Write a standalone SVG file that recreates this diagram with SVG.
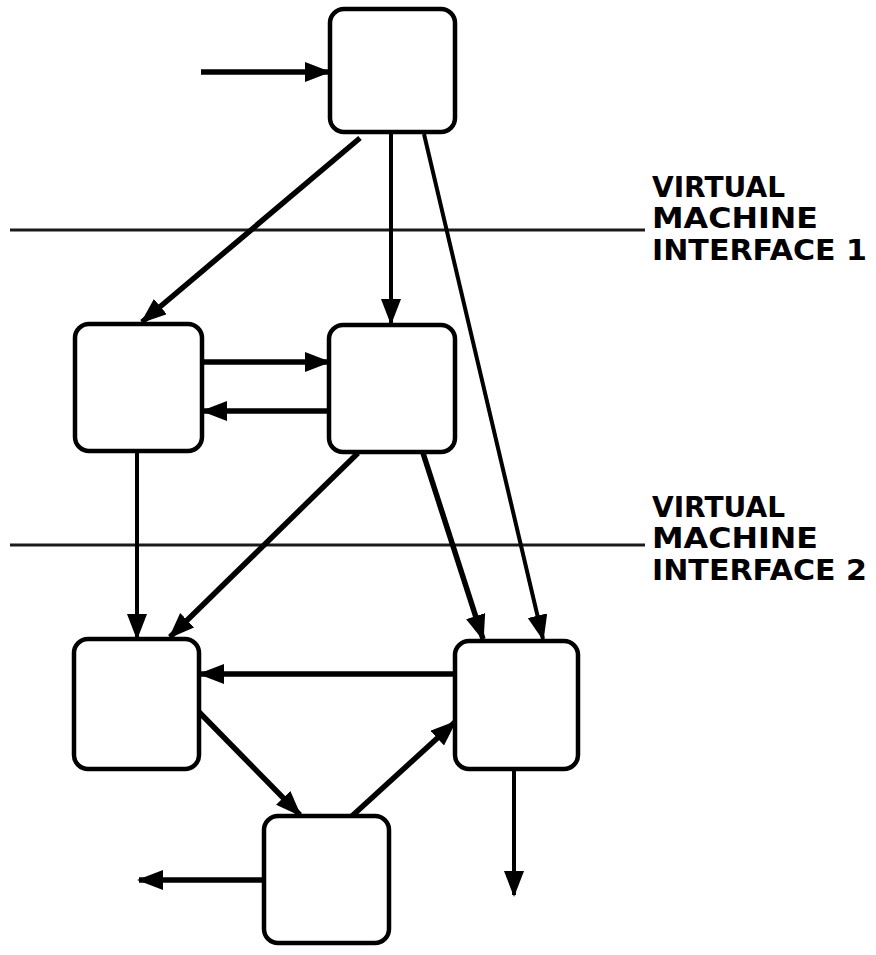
<svg xmlns="http://www.w3.org/2000/svg" width="876" height="955" viewBox="0 0 876 955">
<style>
.node{fill:#fff;stroke:#000;stroke-width:4.5}
.c{fill:none;stroke:#000;stroke-width:4}
.t{stroke-width:5.5}
.iface{stroke:#1a1a1a;stroke-width:3;fill:none}
.lbl{font-family:"DejaVu Sans","Liberation Sans",Arial,sans-serif;font-weight:bold;font-size:29px;fill:#000}
</style>
<defs>
<marker id="ah" markerUnits="userSpaceOnUse" markerWidth="28" markerHeight="22" refX="24" refY="10" orient="auto">
<path d="M0,0 L26,10 L0,20 z" fill="#000"/>
</marker>
</defs>
<g id="interfaces">
<line class="iface" x1="10" y1="230" x2="645" y2="230"/>
<line class="iface" x1="10" y1="545" x2="645" y2="545"/>
</g>
<g id="label1">
<text class="lbl" x="652" y="197" textLength="133" lengthAdjust="spacingAndGlyphs">VIRTUAL</text>
<text class="lbl" x="652" y="228" textLength="166" lengthAdjust="spacingAndGlyphs">MACHINE</text>
<text class="lbl" x="652" y="260" textLength="215" lengthAdjust="spacingAndGlyphs">INTERFACE 1</text>
</g>
<g id="label2">
<text class="lbl" x="652" y="517" textLength="133" lengthAdjust="spacingAndGlyphs">VIRTUAL</text>
<text class="lbl" x="652" y="548" textLength="166" lengthAdjust="spacingAndGlyphs">MACHINE</text>
<text class="lbl" x="652" y="580" textLength="215" lengthAdjust="spacingAndGlyphs">INTERFACE 2</text>
</g>
<g id="connectors">
<line class="c t" x1="201" y1="72" x2="329" y2="72" marker-end="url(#ah)"/>
<line class="c t" x1="360" y1="138" x2="142" y2="322" marker-end="url(#ah)"/>
<line class="c" x1="391" y1="134" x2="391" y2="323" marker-end="url(#ah)"/>
<line class="c" x1="424" y1="134" x2="543" y2="639" marker-end="url(#ah)"/>
<line class="c t" x1="203" y1="362" x2="329" y2="362" marker-end="url(#ah)"/>
<line class="c t" x1="329" y1="411" x2="203" y2="411" marker-end="url(#ah)"/>
<line class="c" x1="137" y1="452" x2="137" y2="638" marker-end="url(#ah)"/>
<line class="c t" x1="358" y1="453" x2="170" y2="637" marker-end="url(#ah)"/>
<line class="c t" x1="423" y1="453" x2="483" y2="639" marker-end="url(#ah)"/>
<line class="c t" x1="455" y1="674" x2="200" y2="674" marker-end="url(#ah)"/>
<line class="c t" x1="199" y1="712" x2="300" y2="815" marker-end="url(#ah)"/>
<line class="c t" x1="352" y1="816" x2="455" y2="722" marker-end="url(#ah)"/>
<line class="c t" x1="264" y1="880" x2="139" y2="880" marker-end="url(#ah)"/>
<line class="c" x1="514" y1="769" x2="514" y2="895" marker-end="url(#ah)"/>
</g>
<g id="n1"><rect class="node" x="330" y="9" width="125" height="123" rx="14"/></g>
<g id="n2"><rect class="node" x="75" y="324" width="127" height="127" rx="14"/></g>
<g id="n3"><rect class="node" x="329" y="325" width="126" height="127" rx="14"/></g>
<g id="n4"><rect class="node" x="74" y="639" width="125" height="130" rx="14"/></g>
<g id="n5"><rect class="node" x="455" y="641" width="123" height="128" rx="14"/></g>
<g id="n6"><rect class="node" x="264" y="816" width="125" height="127" rx="14"/></g>
</svg>
